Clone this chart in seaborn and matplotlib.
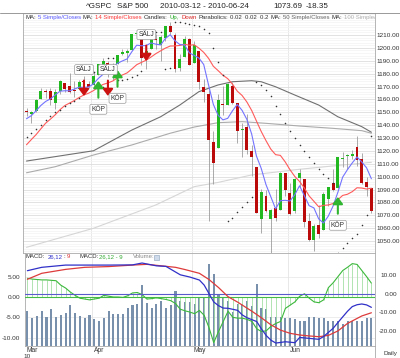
import numpy as np
import pandas as pd
import matplotlib
matplotlib.use("Agg")
import matplotlib.pyplot as plt
import matplotlib.transforms as mtransforms
import seaborn as sns
from matplotlib.lines import Line2D
from matplotlib.patches import Rectangle

sns.set_style("white")
plt.rcParams['font.family'] = ['Liberation Sans', 'DejaVu Sans']

# ^GSPC daily candles 2010-03-12 .. 2010-06-24 (day index 0..72)
opens = [1150.10, 1148.53, 1150.83, 1159.94, 1166.13, 1166.68, 1157.25, 1166.47, 1172.70, 1170.03,
         1167.58, 1167.71, 1173.75, 1171.75, 1171.23, 1178.71, 1186.01, 1188.23, 1181.75, 1187.47,
         1194.94, 1195.94, 1198.69, 1210.77, 1210.17, 1192.06, 1199.04, 1207.16, 1202.52, 1207.87,
         1217.07, 1209.92, 1184.59, 1193.30, 1206.77, 1188.58, 1197.50, 1169.24, 1164.38, 1127.04,
         1122.27, 1156.39, 1155.43, 1170.04, 1157.19, 1136.52, 1138.78, 1119.57, 1107.34, 1067.26,
         1084.78, 1067.42, 1075.51, 1074.27, 1102.59, 1087.30, 1073.01, 1098.82, 1098.43, 1065.84,
         1050.81, 1062.75, 1058.77, 1082.65, 1095.00, 1091.21, 1114.02, 1115.98, 1116.16, 1122.79,
         1113.90, 1095.57, 1090.93]
highs = [1153.41, 1150.98, 1160.28, 1169.20, 1167.77, 1169.20, 1167.82, 1174.72, 1173.04, 1180.69,
         1173.93, 1174.85, 1177.83, 1174.56, 1181.43, 1187.73, 1191.80, 1189.60, 1188.55, 1194.66,
         1199.20, 1199.04, 1210.65, 1213.92, 1210.17, 1197.87, 1208.58, 1210.99, 1210.27, 1217.28,
         1219.80, 1211.38, 1195.05, 1209.36, 1207.99, 1205.13, 1197.50, 1175.95, 1167.58, 1135.13,
         1163.85, 1170.48, 1172.87, 1173.57, 1157.19, 1141.88, 1148.66, 1124.27, 1107.34, 1090.16,
         1089.95, 1074.75, 1090.75, 1103.52, 1102.59, 1094.77, 1098.56, 1105.67, 1098.43, 1071.36,
         1063.15, 1077.74, 1087.85, 1092.25, 1105.63, 1115.59, 1118.74, 1117.72, 1121.01, 1131.23,
         1118.50, 1099.64, 1090.93]
lows = [1146.97, 1141.45, 1150.35, 1159.94, 1161.16, 1155.33, 1152.88, 1163.83, 1166.01, 1165.09,
        1161.48, 1167.71, 1168.92, 1169.15, 1170.69, 1178.71, 1182.77, 1177.25, 1175.12, 1187.15,
        1194.71, 1188.82, 1198.69, 1208.50, 1186.77, 1183.68, 1199.04, 1198.85, 1190.19, 1205.10,
        1211.07, 1181.62, 1181.81, 1193.30, 1186.32, 1188.58, 1168.12, 1158.15, 1065.79, 1094.15,
        1122.27, 1147.71, 1155.43, 1156.14, 1126.14, 1114.96, 1117.20, 1100.66, 1071.58, 1055.90,
        1072.70, 1040.78, 1065.59, 1074.27, 1084.78, 1069.89, 1072.03, 1091.81, 1060.50, 1049.86,
        1042.17, 1052.25, 1058.77, 1077.12, 1089.03, 1091.21, 1107.13, 1105.87, 1113.93, 1108.24,
        1094.18, 1085.31, 1071.60]
closes = [1149.99, 1150.51, 1159.46, 1166.21, 1165.83, 1159.90, 1165.81, 1174.17, 1167.72, 1165.73,
          1166.59, 1173.22, 1173.27, 1169.43, 1178.10, 1187.44, 1189.44, 1182.45, 1186.44, 1194.37,
          1196.48, 1197.30, 1210.65, 1211.67, 1192.13, 1197.52, 1207.17, 1205.94, 1208.67, 1217.28,
          1212.05, 1183.71, 1191.36, 1206.78, 1186.69, 1202.26, 1173.60, 1165.87, 1128.15, 1110.88,
          1159.73, 1155.79, 1171.67, 1157.44, 1135.68, 1136.94, 1120.80, 1115.05, 1071.59, 1087.69,
          1073.65, 1074.03, 1067.95, 1103.06, 1089.41, 1070.71, 1098.38, 1102.83, 1064.88, 1050.47,
          1062.00, 1055.69, 1086.84, 1091.60, 1089.63, 1115.23, 1114.61, 1116.04, 1117.51, 1113.20,
          1095.31, 1092.04, 1073.69]
# closes before the window, needed for the 5 / 14 day averages
prior_closes = [1094.60, 1105.24, 1102.94, 1104.49, 1115.71, 1118.31, 1118.79, 1122.97, 1138.70,
                1138.50, 1140.45, 1145.61, 1150.24]

volume = [4.55, 3.7, 3.9, 4.55, 3.8, 4.8, 3.8, 4.0, 4.3, 5.3, 4.3, 3.9, 3.6, 4.0, 3.5, 3.3, 3.6, 4.6,
          4.2, 4.1, 4.1, 5.0, 5.3, 5.5, 7.9, 5.6, 4.9, 5.4, 5.8, 4.9, 5.3, 7.2, 5.9, 5.7, 5.7, 5.4,
          6.3, 6.4, 10.6, 9.3, 6.7, 6.3, 5.9, 4.4, 5.4, 5.4, 5.9, 5.2, 8.1, 5.0, 4.8, 3.8, 3.8, 3.8,
          3.6, 3.6, 3.5, 3.3, 3.3, 3.8, 3.8, 3.7, 3.6, 3.25, 3.2, 3.25, 2.8, 3.25, 3.2, 3.25, 3.2,
          3.6, 3.6]

# parabolic SAR dots (0.02 0.02 0.2)
sar = [1131.0, 1134.0, 1137.0, 1140.0, 1144.0, 1147.0, 1150.0, 1152.0, 1154.5, 1157.0, 1159.0, 1161.0,
       1181.5, 1181.5, 1181.5, 1168.9, 1169.3, 1191.8, 1191.8,
       1175.1, 1175.1, 1176.1, 1177.0, 1179.0, 1181.8, 1213.9, 1213.3, 1212.7, 1212.2, 1183.7, 1184.4,
       1219.8, 1219.8, 1219.0, 1218.3, 1217.6, 1216.8, 1214.9, 1211.5, 1199.8, 1189.1, 1179.2,
       1065.8, 1067.9, 1072.2, 1076.2, 1080.1, 1083.9,
       1173.6, 1171.5, 1166.9, 1162.5, 1155.2, 1148.3, 1141.9, 1135.8, 1130.1, 1124.7, 1119.7,
       1115.0, 1110.5, 1106.3, 1102.4, 1098.7, 1095.2,
       1040.8, 1044.6, 1048.4, 1052.0, 1055.4, 1062.4, 1070.0, 1131.2]

# long moving averages
ma50_days = [0, 14, 22, 28, 32, 36, 40, 43, 47, 49, 52, 56, 61, 65, 70, 72]
ma50_vals = [1112.1, 1120.1, 1136.2, 1146.5, 1155.6, 1166.0, 1171.2, 1173.7, 1174.5, 1173.7,
             1169.8, 1163.4, 1155.6, 1146.5, 1138.8, 1134.5]
ma100_days = [0, 6, 14, 22, 30, 35, 40, 45, 50, 57, 64, 70, 72]
ma100_vals = [1103.0, 1107.7, 1116.8, 1124.6, 1133.7, 1138.5, 1141.9, 1142.7, 1141.4, 1139.3,
              1137.5, 1135.7, 1133.7]
ma200_days = [0, 14, 27, 35, 40, 47, 57, 64, 72]
ma200_vals = [1045.1, 1059.9, 1078.0, 1092.2, 1095.5, 1101.3, 1105.7, 1108.3, 1111.1]

# MACD 26,12 : 9
macd_days = [0, 3, 8, 13, 17, 22, 24, 25, 27, 29, 30, 32, 34, 36, 37, 38, 39, 40, 41, 42, 44, 45,
             46, 48, 49, 50, 51, 52, 54, 56, 57, 59, 61, 62, 64, 65, 67, 68, 69, 70, 71, 72]
macd_vals = [12.2, 14.0, 15.2, 15.2, 15.2, 15.3, 16.3, 15.8, 14.8, 14.5, 13.0, 10.0, 8.8, 7.2, 4.5,
             0.0, -4.5, -6.5, -7.8, -7.9, -9.0, -11.5, -13.0, -15.0, -19.0, -22.5, -25.0, -26.5,
             -25.8, -26.3, -23.5, -24.0, -24.5, -23.0, -18.6, -15.5, -9.5, -7.0, -6.0, -5.6, -6.1, -7.4]
signal_days = [0, 3, 8, 12, 17, 22, 25, 28, 31, 33, 36, 38, 40, 42, 44, 47, 49, 51, 53, 55, 57, 59,
               61, 63, 65, 67, 70, 72]
signal_vals = [7.6, 10.8, 12.9, 14.0, 14.4, 15.2, 15.6, 14.8, 14.0, 12.8, 10.8, 7.5, 3.2, -1.7, -4.6,
               -9.5, -13.0, -16.8, -19.6, -21.3, -22.2, -22.7, -23.1, -22.4, -20.0, -16.0, -12.0, -10.3]
hist = [4.6, 4.4, 4.3, 4.2, 4.2, 4.1, 4.0, 2.9, 2.2, 1.2,
        0.4, -0.3, -0.5, -0.7, -0.5, -0.3, 0.4, 0.2, 0.0, 0.0,
        -0.1, 0.3, 1.0, 1.1, 0.6, -0.5, -0.4, -0.2, -0.4, -0.6,
        -0.9, -1.6, -3.0, -3.4, -3.7, -4.1, -3.3, -4.5, -7.5, -11.2,
        -8.5, -6.0, -3.5, -5.0, -5.2, -5.2, -5.5, -6.0, -7.8, -8.5,
        -8.3, -7.2, -6.5, -6.0, -2.8, -2.0, -1.2, 0.2, 0.8, -0.3,
        -1.2, -1.4, -0.7, 2.3, 3.5, 5.0, 6.5, 7.3, 8.2, 8.0,
        6.5, 5.0, 3.4]

# signals
sell_days = [12, 17, 25]
sell_tips = [1162.6, 1162.6, 1189.8]
buy_days = [15, 19, 65]
buy_tips = [1174.3, 1182.8, 1084.2]

month_labels = ['Mar', 'Apr', 'May', 'Jun']
month_first_day = [0, 14, 35, 55]

W, H = 400, 358
UP, DOWN = '#22b822', '#bb0a0a'
TXT = '#333333'


def fx(px):
    return px / W


def fy(py):
    return 1 - py / H


def text_row(fig, x0, y, pieces, size, gap, clip_ax=None):
    """Write coloured pieces one after another, like the legend strip of the chart"""
    r = fig.canvas.get_renderer()
    x = x0
    for s, col in pieces:
        if clip_ax is not None:
            t = clip_ax.text(fx(x), fy(y), s, transform=fig.transFigure, fontsize=size, color=col,
                             ha='left', va='center', clip_on=True, zorder=7)
        else:
            t = fig.text(fx(x), fy(y), s, fontsize=size, color=col, ha='left', va='center')
        x += t.get_window_extent(r).width + gap


def main():
    days = np.arange(len(closes))
    o, h, l, c = (np.array(a) for a in (opens, highs, lows, closes))
    all_c = pd.Series(prior_closes + closes)
    ma5 = all_c.rolling(5).mean().iloc[len(prior_closes):].to_numpy()
    ma14 = all_c.rolling(14).mean().iloc[len(prior_closes):].to_numpy()

    fig = plt.figure(figsize=(4.0, 3.58), dpi=100)

    # ---------- price panel ----------
    ax = fig.add_axes([fx(23), fy(253), fx(375) - fx(23), fy(13) - fy(253)])
    ax.set_xlim(-0.731, 72.755)
    ax.set_ylim(1040.68, 1227.09)
    ax.yaxis.tick_right()
    ax.set_yticks(np.arange(1050, 1211, 10))
    ax.set_yticklabels([f'{v:.2f}' for v in np.arange(1050, 1211, 10)])
    ax.set_yticks(np.arange(1042, 1227, 2), minor=True)
    ax.tick_params(axis='y', which='both', length=0, pad=1.4, labelsize=4.6, labelcolor=TXT)
    ax.set_xticks([])
    ax.grid(which='minor', axis='y', color='#f3f3f3', lw=0.5)
    ax.grid(which='major', axis='y', color='#dddddd', lw=0.6)
    for d in month_first_day[1:]:
        ax.axvline(d - 0.5, color='#e4e4e4', lw=0.6, zorder=0)
    for s in ax.spines.values():
        s.set_color('#aaaaaa')
        s.set_linewidth(0.6)

    sns.lineplot(x=ma200_days, y=ma200_vals, ax=ax, color='#d6d6d6', lw=0.8, zorder=1)
    sns.lineplot(x=ma100_days, y=ma100_vals, ax=ax, color='#ababab', lw=0.8, zorder=1)
    sns.lineplot(x=ma50_days, y=ma50_vals, ax=ax, color='#707070', lw=0.8, zorder=1)

    ax.vlines(days, l, h, color='#9c9c9c', lw=0.6, zorder=2)
    colors = [UP if cc >= oo else DOWN for oo, cc in zip(o, c)]
    body = np.maximum(np.abs(c - o), 0.7)
    ax.bar(days, body, bottom=np.minimum(o, c), width=0.62, color=colors, linewidth=0, zorder=3)

    sns.lineplot(x=days, y=ma14, ax=ax, color='#ff5a5a', lw=0.8, zorder=4)
    sns.lineplot(x=days, y=ma5, ax=ax, color='#7373ff', lw=0.8, zorder=4)
    sns.scatterplot(x=days, y=sar, ax=ax, s=1.3, color='#333333', linewidth=0, zorder=4)

    box = dict(boxstyle='round,pad=0.22', fc='white', ec='#9a9a9a', lw=0.5)
    for d, tip in zip(sell_days, sell_tips):
        ax.annotate('', xy=(d, tip), xytext=(d, tip + 12),
                    arrowprops=dict(arrowstyle='-|>,head_length=0.4,head_width=0.3', color='#cc1111',
                                    lw=1.5, shrinkA=0, shrinkB=0, mutation_scale=10), zorder=5)
        ax.text(d, tip + 20.5, 'SÄLJ', ha='center', va='center', fontsize=4.8, color=TXT,
                bbox=box, zorder=6)
    for d, tip in zip(buy_days, buy_tips):
        ax.annotate('', xy=(d, tip), xytext=(d, tip - 13),
                    arrowprops=dict(arrowstyle='-|>,head_length=0.4,head_width=0.3', color='#30b530',
                                    lw=1.5, shrinkA=0, shrinkB=0, mutation_scale=10), zorder=5)
        ax.text(d, tip - 22, 'KÖP', ha='center', va='center', fontsize=4.8, color=TXT,
                bbox=box, zorder=6)

    # legend strip of the price panel
    legend = [('MA:', TXT), ('5 Simple/Closes', '#5a5aff'), ('MA:', TXT),
              ('14 Simple/Closes', '#ff3a3a'), ('Candles:', TXT), ('Up,', '#22aa22'),
              ('Down', '#dd2222'), ('Parabolics:', TXT), ('0.02  0.02  0.2', TXT),
              ('MA:', TXT), ('50 Simple/Closes', '#666666'), ('MA:', TXT),
              ('100 Simple/Closes', '#b0b0b0')]
    text_row(fig, 25, 17.5, legend, 4.3, 2.0, clip_ax=ax)

    # ---------- MACD / volume panel ----------
    ax_v = fig.add_axes([fx(25), fy(346), fx(375) - fx(25), fy(253) - fy(346)])
    ax_v.set_xlim(-0.313, 72.755)
    ax_v.set_ylim(0, 12.09)
    ax_v.set_yticks([])
    for s in ax_v.spines.values():
        s.set_color('#aaaaaa')
        s.set_linewidth(0.6)
    for v in [5, 0, -5, -10]:
        frac = (v + 12.04) / 22.85
        ax_v.plot([0, 1], [frac, frac], transform=ax_v.transAxes, color='#e6e6e6', lw=0.5, zorder=0)
    for d in month_first_day[1:]:
        ax_v.axvline(d - 0.5, color='#e4e4e4', lw=0.6, zorder=0)
    ax_v.bar(days, volume, width=0.42, color='#7890ab', linewidth=0, zorder=2)
    ax_v.set_xticks([d - 0.5 for d in month_first_day])
    ax_v.set_xticklabels([])
    ax_v.set_xticks(days, minor=True)
    ax_v.tick_params(axis='x', which='major', length=8, width=0.6, color='#999999', direction='out')
    ax_v.tick_params(axis='x', which='minor', length=1.5, width=0.4, color='#bbbbbb', direction='out')
    lab_tr = mtransforms.blended_transform_factory(ax_v.transData, fig.transFigure)
    for d, lab in zip(month_first_day, month_labels):
        ax_v.text(d - 0.15, fy(351), lab, transform=lab_tr, fontsize=4.8, color=TXT,
                  ha='left', va='center', clip_on=False)

    ax_h = ax_v.twinx()
    ax_h.set_ylim(-12.04, 10.81)
    ax_h.yaxis.tick_left()
    ax_h.set_yticks([5, 0, -5, -10])
    ax_h.set_yticklabels([f'{v:.2f}' for v in [5, 0, -5, -10]])
    ax_h.tick_params(axis='y', length=0, pad=3.6, labelsize=4.6, labelcolor=TXT)
    ax_h.vlines(days, 0, hist, color='#a3dea3', lw=0.6, zorder=1)
    ax_h.axhline(0, color='#44bb44', lw=0.8, zorder=2)
    sns.lineplot(x=days, y=hist, ax=ax_h, color='#3cb83c', lw=0.8, zorder=3)
    ax_h.set_ylabel('')
    for s in ax_h.spines.values():
        s.set_visible(False)

    ax_r = ax_v.twinx()
    ax_r.set_ylim(-28.07, 21.66)
    ax_r.set_yticks([10, 0, -10, -20])
    ax_r.set_yticklabels([f'{v:.2f}' for v in [10, 0, -10, -20]])
    ax_r.tick_params(axis='y', length=0, pad=15.8, labelsize=4.6, labelcolor=TXT)
    for lab in ax_r.get_yticklabels():
        lab.set_horizontalalignment('right')
    ax_r.axhline(0, color='#5a5acc', lw=0.8, zorder=2)
    sns.lineplot(x=signal_days, y=signal_vals, ax=ax_r, color='#dd3b3b', lw=0.9, zorder=3)
    sns.lineplot(x=macd_days, y=macd_vals, ax=ax_r, color='#3030c8', lw=0.9, zorder=3)
    ax_r.set_ylabel('')
    for s in ax_r.spines.values():
        s.set_visible(False)

    # legend strip of the MACD panel
    macd_leg = [(26, 'MACD:', TXT), (48, '26,12', '#3333cc'), (63.5, ':', TXT), (67, '9', '#dd3333'),
                (79, 'MACD:', TXT), (99, '26,12 - 9', '#33aa33'), (133, 'Volume:', '#888888')]
    for px, s, col in macd_leg:
        fig.text(fx(px), fy(257), s, fontsize=4.3, color=col, ha='left', va='center')
    fig.patches.append(Rectangle((fx(154), fy(259.5)), 5 / W, 5 / H, transform=fig.transFigure,
                                 fc='#cfdaea', ec='#8aa0bb', lw=0.4))

    # ---------- title and frame ----------
    title = [(86, '^GSPC'), (117, 'S&P 500'), (160, '2010-03-12 - 2010-06-24'),
             (273, '1073.69'), (306, '-18.35')]
    for px, s in title:
        fig.text(fx(px), fy(6), s, fontsize=5.8, color='#222222', ha='left', va='center')
    fig.lines.append(Line2D([0, 1], [fy(13), fy(13)], transform=fig.transFigure,
                            color='#999999', lw=0.7))
    fig.lines.append(Line2D([fx(375), fx(375)], [fy(346), 0], transform=fig.transFigure,
                            color='#aaaaaa', lw=0.6))
    fig.text(fx(23), fy(354.5), '10', fontsize=4.6, color=TXT, ha='left', va='top')
    fig.text(fx(384), fy(353.5), 'Daily', fontsize=4.5, color=TXT, ha='left', va='center')

    fig.savefig('out.png', dpi=100)
    plt.close(fig)


if __name__ == "__main__":
    main()
